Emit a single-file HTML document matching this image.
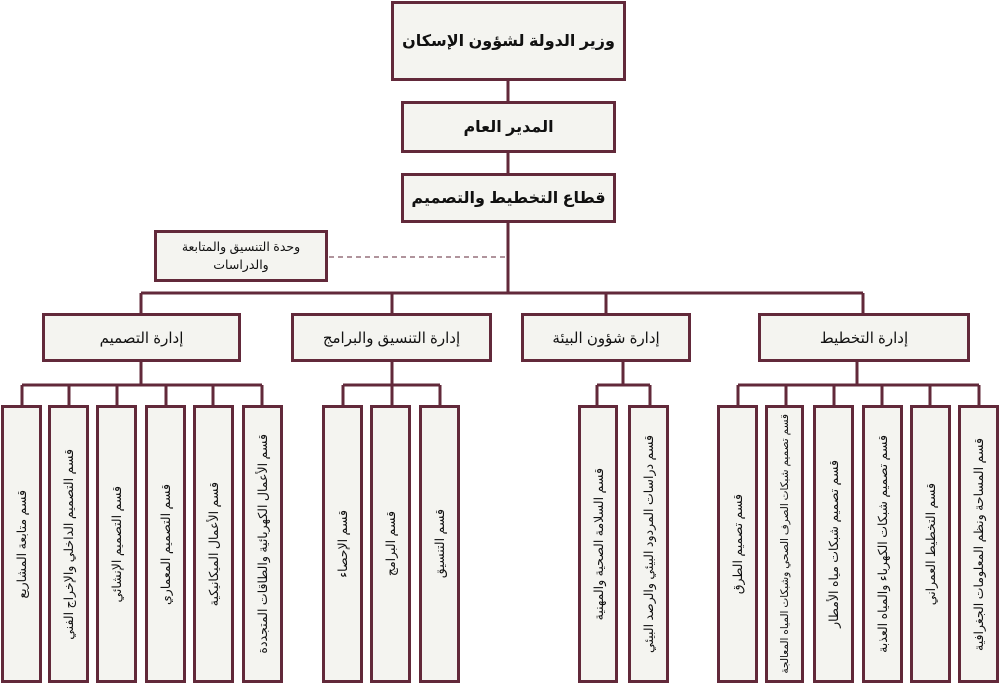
<!DOCTYPE html>
<html><head><meta charset="utf-8"><style>
body{margin:0;width:1000px;height:685px;background:#fff;position:relative;overflow:hidden;font-family:"Liberation Sans","Noto Sans CJK SC","DejaVu Sans",sans-serif;}
.b{position:absolute;box-sizing:border-box;border:3px solid #62293a;background:#f4f4f0;display:flex;align-items:center;justify-content:center;text-align:center;color:#111;direction:rtl;}
.h{font-weight:bold;font-size:16px;white-space:nowrap;}
.d{font-size:15px;white-space:nowrap;}
.l{font-size:12.5px;}
.l span{writing-mode:vertical-rl;transform:rotate(180deg);white-space:nowrap;}
svg{position:absolute;left:0;top:0}
</style></head><body>
<svg width="1000" height="685">
<g stroke="#62293a" stroke-width="3" fill="none">
<line x1="508" y1="81" x2="508" y2="101"/>
<line x1="508" y1="152" x2="508" y2="173"/>
<line x1="508" y1="223" x2="508" y2="293"/>
<line x1="141" y1="293" x2="863" y2="293"/>
<line x1="141" y1="293" x2="141" y2="313"/>
<line x1="392" y1="293" x2="392" y2="313"/>
<line x1="606" y1="293" x2="606" y2="313"/>
<line x1="863" y1="293" x2="863" y2="313"/>
<line x1="141" y1="362" x2="141" y2="385"/>
<line x1="22" y1="385" x2="262" y2="385"/>
<line x1="22" y1="385" x2="22" y2="405"/><line x1="69" y1="385" x2="69" y2="405"/><line x1="117" y1="385" x2="117" y2="405"/><line x1="166" y1="385" x2="166" y2="405"/><line x1="213" y1="385" x2="213" y2="405"/><line x1="262" y1="385" x2="262" y2="405"/>
<line x1="392" y1="362" x2="392" y2="385"/>
<line x1="343" y1="385" x2="440" y2="385"/>
<line x1="343" y1="385" x2="343" y2="405"/><line x1="392" y1="385" x2="392" y2="405"/><line x1="440" y1="385" x2="440" y2="405"/>
<line x1="623" y1="362" x2="623" y2="385"/>
<line x1="597" y1="385" x2="650" y2="385"/>
<line x1="597" y1="385" x2="597" y2="405"/><line x1="650" y1="385" x2="650" y2="405"/>
<line x1="857" y1="362" x2="857" y2="385"/>
<line x1="738" y1="385" x2="979" y2="385"/>
<line x1="738" y1="385" x2="738" y2="405"/><line x1="786" y1="385" x2="786" y2="405"/><line x1="834" y1="385" x2="834" y2="405"/><line x1="882" y1="385" x2="882" y2="405"/><line x1="930" y1="385" x2="930" y2="405"/><line x1="979" y1="385" x2="979" y2="405"/>
</g>
<line x1="329" y1="257" x2="508" y2="257" stroke="#62293a" stroke-width="1" stroke-dasharray="5,4"/>
</svg>
<div class="b h" style="left:391px;top:1px;width:235px;height:80px;font-size:16px;">وزير الدولة لشؤون الإسكان</div>
<div class="b h" style="left:401px;top:101px;width:215px;height:52px;">المدير العام</div>
<div class="b h" style="left:401px;top:173px;width:215px;height:50px;">قطاع التخطيط والتصميم</div>
<div class="b" style="left:154px;top:230px;width:174px;height:52px;font-size:12.5px;line-height:18px;">وحدة التنسيق والمتابعة<br>والدراسات</div>
<div class="b d" style="left:42px;top:313px;width:199px;height:49px;">إدارة التصميم</div>
<div class="b d" style="left:291px;top:313px;width:201px;height:49px;">إدارة التنسيق والبرامج</div>
<div class="b d" style="left:521px;top:313px;width:170px;height:49px;">إدارة شؤون البيئة</div>
<div class="b d" style="left:758px;top:313px;width:212px;height:49px;">إدارة التخطيط</div>

<div class="b l" style="left:1px;top:405px;width:41px;height:278px;"><span>قسم متابعة المشاريع</span></div>
<div class="b l" style="left:48px;top:405px;width:41px;height:278px;"><span>قسم التصميم الداخلي والإخراج الفني</span></div>
<div class="b l" style="left:96px;top:405px;width:41px;height:278px;"><span>قسم التصميم الإنشائي</span></div>
<div class="b l" style="left:145px;top:405px;width:41px;height:278px;"><span>قسم التصميم المعماري</span></div>
<div class="b l" style="left:193px;top:405px;width:41px;height:278px;"><span>قسم الأعمال الميكانيكية</span></div>
<div class="b l" style="left:242px;top:405px;width:41px;height:278px;"><span>قسم الأعمال الكهربائية والطاقات المتجددة</span></div>

<div class="b l" style="left:322px;top:405px;width:41px;height:278px;"><span>قسم الإحصاء</span></div>
<div class="b l" style="left:370px;top:405px;width:41px;height:278px;"><span>قسم البرامج</span></div>
<div class="b l" style="left:419px;top:405px;width:41px;height:278px;"><span>قسم التنسيق</span></div>

<div class="b l" style="left:578px;top:405px;width:40px;height:278px;"><span>قسم السلامة الصحية والمهنية</span></div>
<div class="b l" style="left:628px;top:405px;width:41px;height:278px;"><span>قسم دراسات المردود البيئي والرصد البيئي</span></div>

<div class="b l" style="left:717px;top:405px;width:41px;height:278px;"><span>قسم تصميم الطرق</span></div>
<div class="b l" style="left:765px;top:405px;width:39px;height:278px;font-size:10.5px;"><span>قسم تصميم شبكات الصرف الصحي وشبكات المياه المعالجة</span></div>
<div class="b l" style="left:813px;top:405px;width:41px;height:278px;"><span>قسم تصميم شبكات مياه الأمطار</span></div>
<div class="b l" style="left:862px;top:405px;width:41px;height:278px;"><span>قسم تصميم شبكات الكهرباء والمياه العذبة</span></div>
<div class="b l" style="left:910px;top:405px;width:41px;height:278px;"><span>قسم التخطيط العمراني</span></div>
<div class="b l" style="left:958px;top:405px;width:41px;height:278px;"><span>قسم المساحة ونظم المعلومات الجغرافية</span></div>
</body></html>
